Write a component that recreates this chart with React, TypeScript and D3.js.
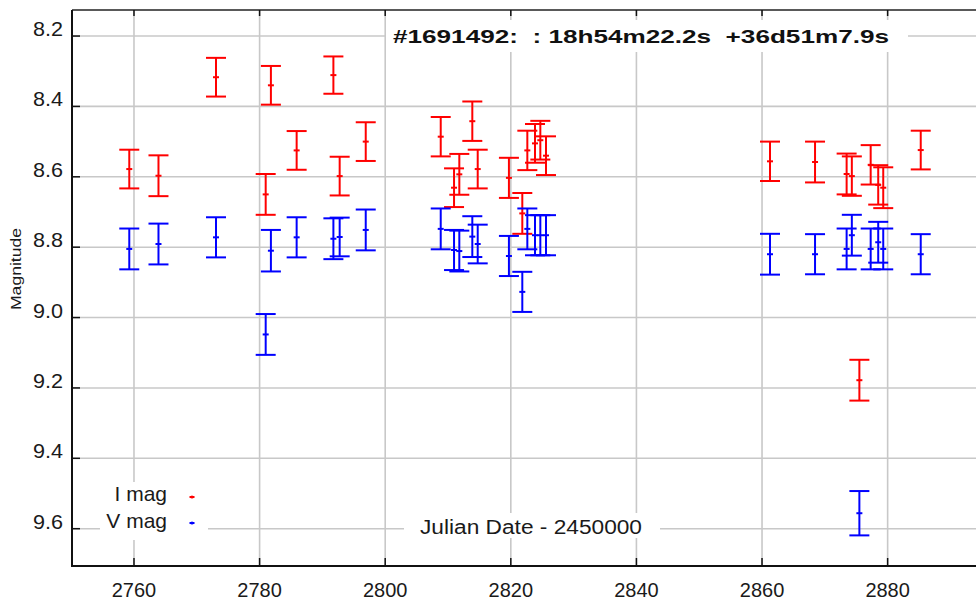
import React from 'react';
import * as d3 from 'd3';

const dates = [
  2759.25, 2763.9, 2773.06, 2780.97, 2781.8, 2785.9, 2791.75, 2792.75, 2796.9,
  2808.84, 2810.96, 2811.8, 2813.87, 2814.73, 2819.7, 2821.83, 2822.63, 2823.85, 2824.7, 2825.6,
  2861.27, 2868.44, 2873.47, 2874.3, 2875.5, 2877.3, 2878.5, 2879.3, 2885.27,
];
const iMag = [
  8.578, 8.597, 8.317, 8.65, 8.34, 8.525, 8.311, 8.598, 8.5,
  8.486, 8.631, 8.593, 8.442, 8.578, 8.603, 8.704, 8.525, 8.505, 8.496, 8.54,
  8.556, 8.558, 8.592, 8.598, 9.178, 8.566, 8.623, 8.631, 8.524,
];
const iErr = [
  0.055, 0.058, 0.055, 0.058, 0.055, 0.055, 0.053, 0.055, 0.055,
  0.056, 0.055, 0.058, 0.056, 0.055, 0.057, 0.058, 0.056, 0.055, 0.055, 0.055,
  0.056, 0.058, 0.058, 0.056, 0.058, 0.056, 0.056, 0.058, 0.055,
];
const vMag = [
  8.805, 8.791, 8.772, 9.048, 8.81, 8.772, 8.776, 8.771, 8.751,
  8.748, 8.808, 8.811, 8.77, 8.791, 8.825, 8.927, 8.748, 8.766, 8.766, 8.766,
  8.82, 8.82, 8.805, 8.766, 9.556, 8.805, 8.786, 8.805, 8.82,
];
const vErr = [
  0.058, 0.058, 0.057, 0.058, 0.059, 0.057, 0.058, 0.055, 0.058,
  0.058, 0.057, 0.058, 0.058, 0.055, 0.057, 0.057, 0.058, 0.057, 0.057, 0.057,
  0.058, 0.057, 0.058, 0.058, 0.063, 0.058, 0.058, 0.058, 0.057,
];
const xTicks = [2760, 2780, 2800, 2820, 2840, 2860, 2880];
const yTicks = [8.2, 8.4, 8.6, 8.8, 9.0, 9.2, 9.4, 9.6];
const seriesNames = ['I mag', 'V mag'];
const seriesColors = ['#ff0000', '#0000ff'];
const titleText = '#1691492:  : 18h54m22.2s  +36d51m7.9s';
const xLabel = 'Julian Date - 2450000';
const yLabel = 'Magnitude';

export default function App() {
  const W = 976, H = 601;
  const left = 72, top = 10, bottom = 566, right = 976;
  const x = d3.scaleLinear().domain([2750.13, 2894.07]).range([left, right]);
  const y = d3.scaleLinear().domain([8.126, 9.706]).range([top, bottom]);
  const font = '"Liberation Sans", Arial, sans-serif';
  const grid = '#c8c8c8';

  const series = [
    { mags: iMag, errs: iErr, color: seriesColors[0] },
    { mags: vMag, errs: vErr, color: seriesColors[1] },
  ];

  return (
    <svg width={W} height={H} style={{ position: 'absolute', left: 0, top: 0, background: '#fff' }}>
      <rect x={0} y={0} width={W} height={H} fill="#fff" />
      {/* grid */}
      {xTicks.map((t) => (
        <line key={'gx' + t} x1={x(t)} x2={x(t)} y1={top} y2={bottom} stroke={grid} strokeWidth={1.6} />
      ))}
      {yTicks.map((t) => (
        <line key={'gy' + t} x1={left} x2={right} y1={y(t)} y2={y(t)} stroke={grid} strokeWidth={1.6} />
      ))}
      {/* label boxes */}
      <rect x={386} y={20} width={522} height={32} fill="#fff" />
      <rect x={100} y={482} width={108} height={58} fill="#fff" />
      <rect x={404} y={513} width={256} height={25} fill="#fff" />

      {/* error bars */}
      {series.map((s, si) => (
        <g key={'s' + si} stroke={s.color} strokeWidth={2} fill="none">
          {dates.map((d, i) => {
            const cx = x(d);
            const y1 = y(s.mags[i] - s.errs[i]);
            const y2 = y(s.mags[i] + s.errs[i]);
            const yc = y(s.mags[i]);
            return (
              <g key={i}>
                <line x1={cx} x2={cx} y1={y1} y2={y2} />
                <line x1={cx - 10} x2={cx + 10} y1={y1} y2={y1} />
                <line x1={cx - 10} x2={cx + 10} y1={y2} y2={y2} />
                <line x1={cx - 3} x2={cx + 3} y1={yc} y2={yc} strokeWidth={2} />
              </g>
            );
          })}
        </g>
      ))}

      {/* axes */}
      <line x1={left} x2={right} y1={top} y2={top} stroke="#222" strokeWidth={1.5} />
      <line x1={left} x2={left} y1={top} y2={bottom + 1} stroke="#111" strokeWidth={2} />
      <line x1={left} x2={right} y1={bottom} y2={bottom} stroke="#111" strokeWidth={2} />
      {xTicks.map((t) => (
        <g key={'tx' + t}>
          <line x1={x(t)} x2={x(t)} y1={bottom} y2={bottom - 8} stroke="#111" strokeWidth={1.5} />
          <line x1={x(t)} x2={x(t)} y1={top} y2={top + 6} stroke="#111" strokeWidth={1.5} />
          <text x={x(t)} y={597} textAnchor="middle" fontFamily={font} fontSize={20} fill="#1a1a1a">
            {t}
          </text>
        </g>
      ))}
      {yTicks.map((t) => (
        <g key={'ty' + t}>
          <line x1={left} x2={left + 8} y1={y(t)} y2={y(t)} stroke="#111" strokeWidth={1.5} />
          <text x={63} y={y(t)} textAnchor="end" fontFamily={font} fontSize={20} fill="#1a1a1a"
            textLength={30} lengthAdjust="spacingAndGlyphs">
            {d3.format('.1f')(t)}
          </text>
        </g>
      ))}

      {/* title */}
      <text x={393} y={43} fontFamily={font} fontWeight="bold" fontSize={18.5} fill="#111"
        textLength={496} lengthAdjust="spacingAndGlyphs" style={{ whiteSpace: 'pre' }}>
        {titleText}
      </text>

      {/* legend */}
      {seriesNames.map((n, i) => (
        <g key={'lg' + n}>
          <text x={167} y={501 + i * 27} textAnchor="end" fontFamily={font} fontSize={21} fill="#1a1a1a">
            {n}
          </text>
          <line x1={189.5} x2={194.5} y1={497 + i * 26} y2={497 + i * 26} stroke={seriesColors[i]} strokeWidth={2} />
          <circle cx={192} cy={497 + i * 26} r={1.6} fill={seriesColors[i]} />
        </g>
      ))}

      {/* axis labels */}
      <text x={420} y={534} fontFamily={font} fontSize={20} fill="#1a1a1a"
        textLength={222} lengthAdjust="spacingAndGlyphs">
        {xLabel}
      </text>
      <text transform="translate(20.5,269) rotate(-90)" textAnchor="middle" fontFamily={font} fontSize={15}
        fill="#1a1a1a" textLength={82} lengthAdjust="spacingAndGlyphs">
        {yLabel}
      </text>
    </svg>
  );
}
